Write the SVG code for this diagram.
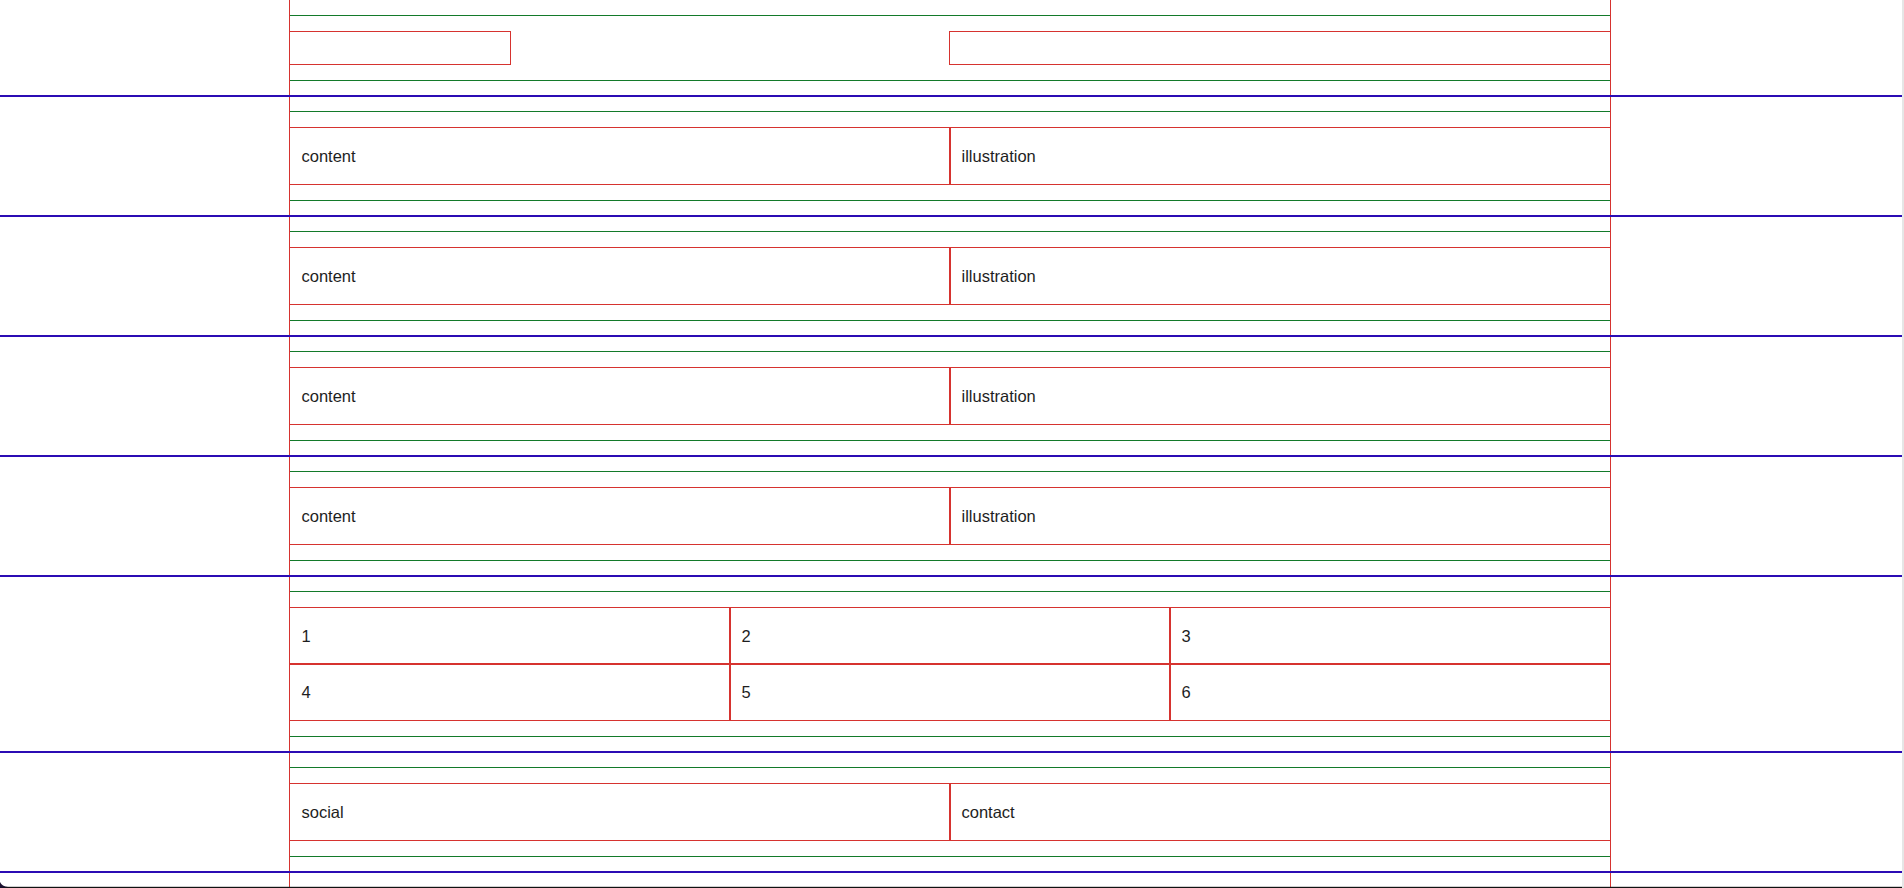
<svg xmlns="http://www.w3.org/2000/svg" width="1904" height="888" viewBox="0 0 1904 888">
<style>
.bl{stroke:#2b0cb4;stroke-width:2;fill:none}
.gr{stroke:#137a2a;stroke-width:1;fill:none}
.rd{stroke:#d6332f;stroke-width:1;fill:none}
.rd2{stroke:#d6332f;stroke-width:2;fill:none}
.t{font-family:"Liberation Sans",Arial,sans-serif;font-size:16.5px;fill:#1e1e1e}
</style>
<rect x="0" y="0" width="1904" height="888" fill="#ffffff"/>
<rect x="1902" y="0" width="2" height="888" fill="#e6e6e6"/>

<g id="header">
<line class="gr" x1="289.5" y1="15.5" x2="1610.5" y2="15.5"/>
<rect class="rd" x="289.5" y="31.5" width="221" height="33"/>
<rect class="rd" x="949.5" y="31.5" width="661" height="33"/>
<line class="gr" x1="289.5" y1="80.5" x2="1610.5" y2="80.5"/>
</g>

<g id="section1">
<line class="gr" x1="289.5" y1="111.5" x2="1610.5" y2="111.5"/>
<rect class="rd" x="289.5" y="127.5" width="1321" height="57"/>
<line class="rd2" x1="950" y1="127.5" x2="950" y2="184.5"/>
<text class="t" x="301.5" y="162">content</text>
<text class="t" x="961.5" y="162">illustration</text>
<line class="gr" x1="289.5" y1="200.5" x2="1610.5" y2="200.5"/>
</g>

<g id="section2">
<line class="gr" x1="289.5" y1="231.5" x2="1610.5" y2="231.5"/>
<rect class="rd" x="289.5" y="247.5" width="1321" height="57"/>
<line class="rd2" x1="950" y1="247.5" x2="950" y2="304.5"/>
<text class="t" x="301.5" y="282">content</text>
<text class="t" x="961.5" y="282">illustration</text>
<line class="gr" x1="289.5" y1="320.5" x2="1610.5" y2="320.5"/>
</g>

<g id="section3">
<line class="gr" x1="289.5" y1="351.5" x2="1610.5" y2="351.5"/>
<rect class="rd" x="289.5" y="367.5" width="1321" height="57"/>
<line class="rd2" x1="950" y1="367.5" x2="950" y2="424.5"/>
<text class="t" x="301.5" y="402">content</text>
<text class="t" x="961.5" y="402">illustration</text>
<line class="gr" x1="289.5" y1="440.5" x2="1610.5" y2="440.5"/>
</g>

<g id="section4">
<line class="gr" x1="289.5" y1="471.5" x2="1610.5" y2="471.5"/>
<rect class="rd" x="289.5" y="487.5" width="1321" height="57"/>
<line class="rd2" x1="950" y1="487.5" x2="950" y2="544.5"/>
<text class="t" x="301.5" y="522">content</text>
<text class="t" x="961.5" y="522">illustration</text>
<line class="gr" x1="289.5" y1="560.5" x2="1610.5" y2="560.5"/>
</g>

<g id="grid">
<line class="gr" x1="289.5" y1="591.5" x2="1610.5" y2="591.5"/>
<rect class="rd" x="289.5" y="607.5" width="1321" height="113"/>
<line class="rd2" x1="289.5" y1="664" x2="1610.5" y2="664"/>
<line class="rd2" x1="730" y1="607.5" x2="730" y2="720.5"/>
<line class="rd2" x1="1170" y1="607.5" x2="1170" y2="720.5"/>
<text class="t" x="301.5" y="642">1</text>
<text class="t" x="741.5" y="642">2</text>
<text class="t" x="1181.5" y="642">3</text>
<text class="t" x="301.5" y="698">4</text>
<text class="t" x="741.5" y="698">5</text>
<text class="t" x="1181.5" y="698">6</text>
<line class="gr" x1="289.5" y1="736.5" x2="1610.5" y2="736.5"/>
</g>

<g id="footer">
<line class="gr" x1="289.5" y1="767.5" x2="1610.5" y2="767.5"/>
<rect class="rd" x="289.5" y="783.5" width="1321" height="57"/>
<line class="rd2" x1="950" y1="783.5" x2="950" y2="840.5"/>
<text class="t" x="301.5" y="818">social</text>
<text class="t" x="961.5" y="818">contact</text>
<line class="gr" x1="289.5" y1="856.5" x2="1610.5" y2="856.5"/>
</g>

<g id="container">
<line class="rd" x1="289.5" y1="0" x2="289.5" y2="888"/>
<line class="rd" x1="1610.5" y1="0" x2="1610.5" y2="888"/>
</g>

<g id="separators">
<line class="bl" x1="0" y1="96" x2="1902" y2="96"/>
<line class="bl" x1="0" y1="216" x2="1902" y2="216"/>
<line class="bl" x1="0" y1="336" x2="1902" y2="336"/>
<line class="bl" x1="0" y1="456" x2="1902" y2="456"/>
<line class="bl" x1="0" y1="576" x2="1902" y2="576"/>
<line class="bl" x1="0" y1="752" x2="1902" y2="752"/>
<line class="bl" x1="0" y1="872" x2="1902" y2="872"/>
</g>

<rect x="0" y="886.8" width="1902" height="1.2" fill="#111"/>
<path d="M0,882 Q2,886.5 8,887 L0,888 Z" fill="#1a1030"/>
</svg>
